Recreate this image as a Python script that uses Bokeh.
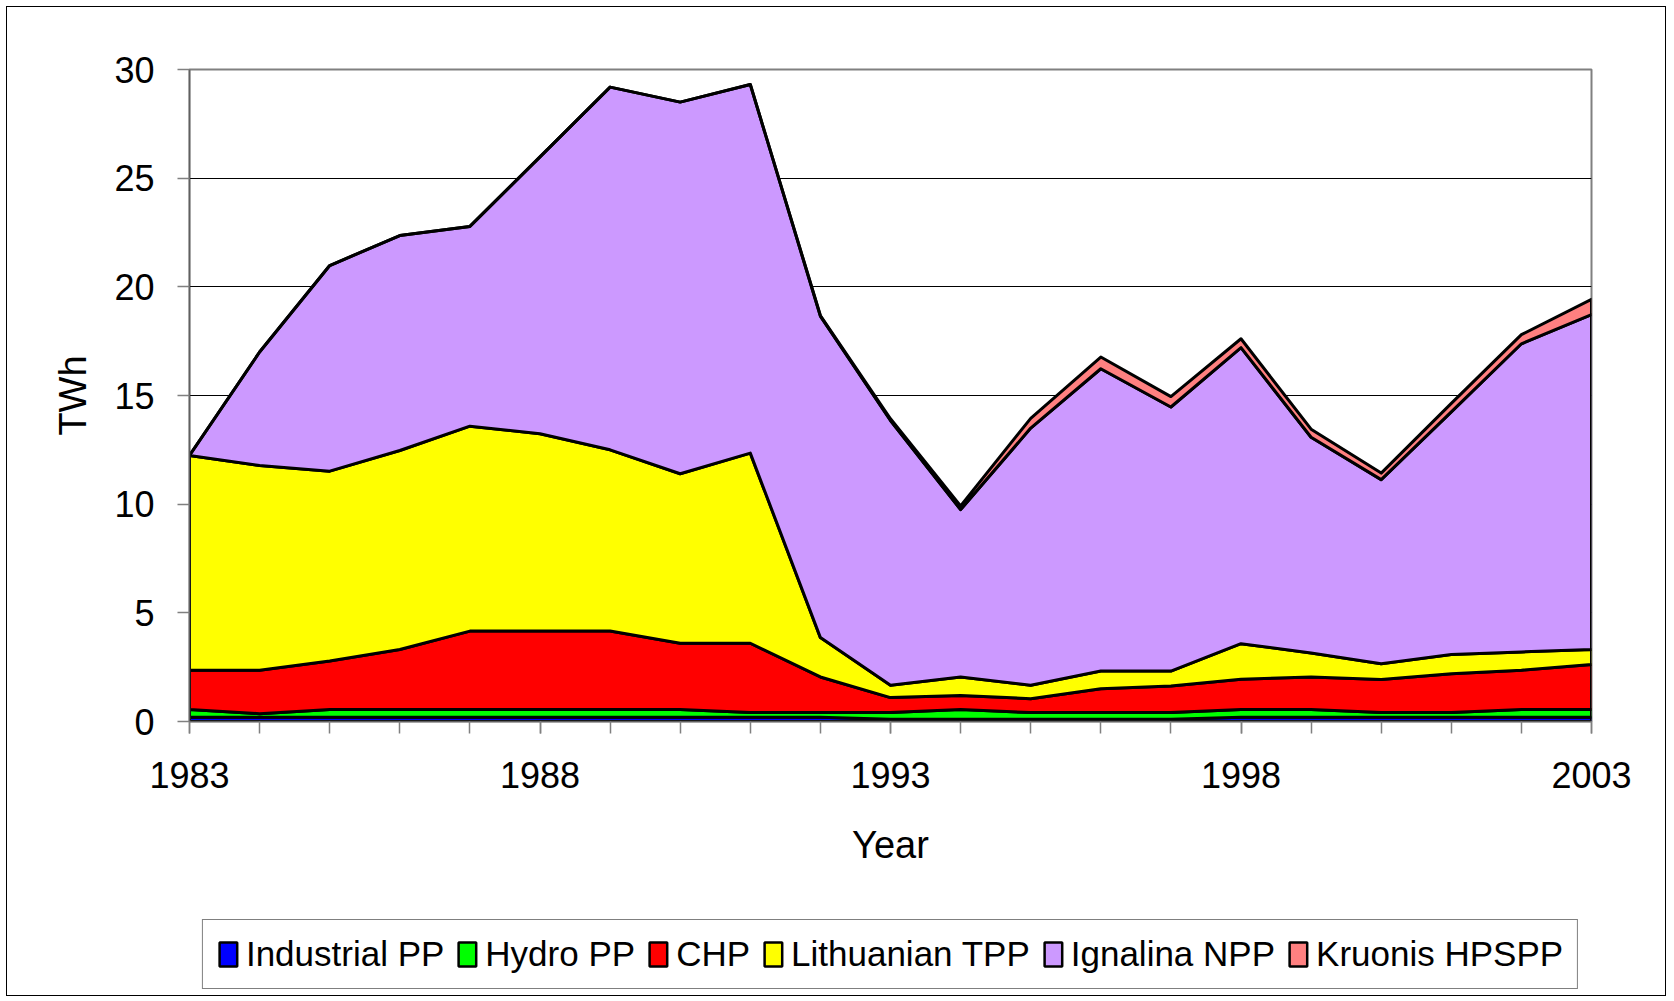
import numpy as np
from bokeh.plotting import figure
from bokeh.layouts import column
from bokeh.models import FixedTicker, Range1d, Legend, LegendItem
from bokeh.embed import file_html
from bokeh.resources import INLINE

years = list(range(1983, 2004))
industrial = [0.2, 0.2, 0.2, 0.2, 0.2, 0.2, 0.2, 0.2, 0.2, 0.2, 0.1, 0.1, 0.1, 0.1, 0.1,
              0.2, 0.2, 0.2, 0.2, 0.2, 0.2]
hydro = [0.35, 0.16, 0.35, 0.35, 0.35, 0.35, 0.35, 0.35, 0.21, 0.21, 0.31, 0.45, 0.31, 0.31,
         0.31, 0.35, 0.35, 0.21, 0.21, 0.35, 0.35]
chp = [1.81, 2.0, 2.23, 2.76, 3.61, 3.61, 3.61, 3.05, 3.19, 1.64, 0.69, 0.65, 0.64, 1.1,
       1.22, 1.39, 1.5, 1.52, 1.79, 1.81, 2.07]
lithuanian_tpp = [9.88, 9.42, 8.74, 9.16, 9.43, 9.08, 8.34, 7.8, 8.75, 1.81, 0.57, 0.85,
                  0.62, 0.81, 0.69, 1.64, 1.1, 0.73, 0.88, 0.84, 0.69]
ignalina_npp = [0.0, 5.22, 9.46, 9.89, 9.19, 12.74, 16.69, 17.1, 16.96, 14.79, 12.18, 7.7,
                11.83, 13.91, 12.15, 13.62, 9.93, 8.47, 11.17, 14.18, 15.41]
kruonis_hpspp = [0, 0, 0, 0, 0, 0, 0, 0, 0, 0.03, 0.08, 0.17, 0.45, 0.54, 0.48, 0.41, 0.37,
                 0.3, 0.39, 0.42, 0.7]

series_names = ["Industrial PP", "Hydro PP", "CHP", "Lithuanian TPP", "Ignalina NPP",
                "Kruonis HPSPP"]
series_values = [industrial, hydro, chp, lithuanian_tpp, ignalina_npp, kruonis_hpspp]
colors = ["#0000FF", "#00FF00", "#FF0000", "#FFFF00", "#CC99FF", "#FF8080"]
y_ticks = [0, 5, 10, 15, 20, 25, 30]
y_grid = [5, 10, 15, 20, 25]
x_label_years = [1983, 1988, 1993, 1998, 2003]

FONT = "Liberation Sans"

# ---------------- main chart ----------------
p = figure(width=1658, height=906, x_range=Range1d(1983, 2003), y_range=Range1d(0, 30),
           output_backend="svg", toolbar_location=None,
           min_border_left=182, min_border_right=74, min_border_top=62, min_border_bottom=192)
p.background_fill_color = "white"
p.border_fill_color = "white"
p.outline_line_color = "#808080"
p.outline_line_width = 2

# ---------------- legend strip ----------------
q = figure(width=1658, height=82, x_range=Range1d(1983, 2003), y_range=Range1d(-2, -1),
           output_backend="svg", toolbar_location=None,
           x_axis_location=None, y_axis_location=None,
           min_border_left=0, min_border_right=0, min_border_top=0, min_border_bottom=0)
q.outline_line_color = None
q.xgrid.grid_line_color = None
q.ygrid.grid_line_color = None
q.background_fill_color = "white"
q.border_fill_color = "white"

x = np.array(years, dtype=float)
bottom = np.zeros(len(years))
legend_renderers = []
for vals, col in zip(series_values, colors):
    top = bottom + np.array(vals, dtype=float)
    xs = np.concatenate([x, x[::-1]])
    ys = np.concatenate([top, bottom[::-1]])
    p.patch(xs, ys, fill_color=col, line_color="black", line_width=3, line_join="round")
    # same series in the legend strip (outside its visible range) to carry the swatch style
    r = q.patch(xs, ys, fill_color=col, line_color="black", line_width=2.5)
    legend_renderers.append(r)
    bottom = top

# axes
p.xaxis.ticker = FixedTicker(ticks=x_label_years, minor_ticks=years)
p.yaxis.ticker = FixedTicker(ticks=y_ticks)
for ax in (p.xaxis[0], p.yaxis[0]):
    ax.axis_line_color = "#606060"
    ax.axis_line_width = 1.5
    ax.major_tick_line_color = "#808080"
    ax.major_tick_line_width = 1.5
    ax.minor_tick_line_color = "#808080"
    ax.minor_tick_line_width = 1.5
    ax.major_tick_in = 0
    ax.major_tick_out = 12
    ax.minor_tick_in = 0
    ax.minor_tick_out = 12
    ax.major_label_text_font = FONT
    ax.major_label_text_font_size = "36px"
    ax.major_label_text_color = "black"
    ax.axis_label_text_font = FONT
    ax.axis_label_text_font_size = "38px"
    ax.axis_label_text_font_style = "normal"
    ax.axis_label_text_color = "black"
p.yaxis.minor_tick_line_color = None
p.xaxis.axis_label = "Year"
p.yaxis.axis_label = "TWh"
p.xaxis.major_label_standoff = 28
p.yaxis.major_label_standoff = 23
p.xaxis.axis_label_standoff = 33
p.yaxis.axis_label_standoff = 17

p.xgrid.grid_line_color = None
p.ygrid.ticker = FixedTicker(ticks=y_grid)
p.ygrid.grid_line_color = "black"
p.ygrid.grid_line_width = 1

items = [LegendItem(label=name, renderers=[r]) for name, r in zip(series_names, legend_renderers)]
legend = Legend(items=items, orientation="horizontal", ncols=6, location="center",
                label_text_font=FONT, label_text_font_size="35px", label_text_color="black",
                glyph_width=22, glyph_height=30, label_standoff=7, spacing=12, padding=14,
                margin=0, border_line_color="black", border_line_width=1,
                background_fill_color="white", background_fill_alpha=1.0)
q.add_layout(legend)

layout = column(p, q, spacing=0,
                styles={"margin": "6px 0px 0px 6px", "border": "1.5px solid #000"})

open("out.html", "w").write(file_html(layout, INLINE))
